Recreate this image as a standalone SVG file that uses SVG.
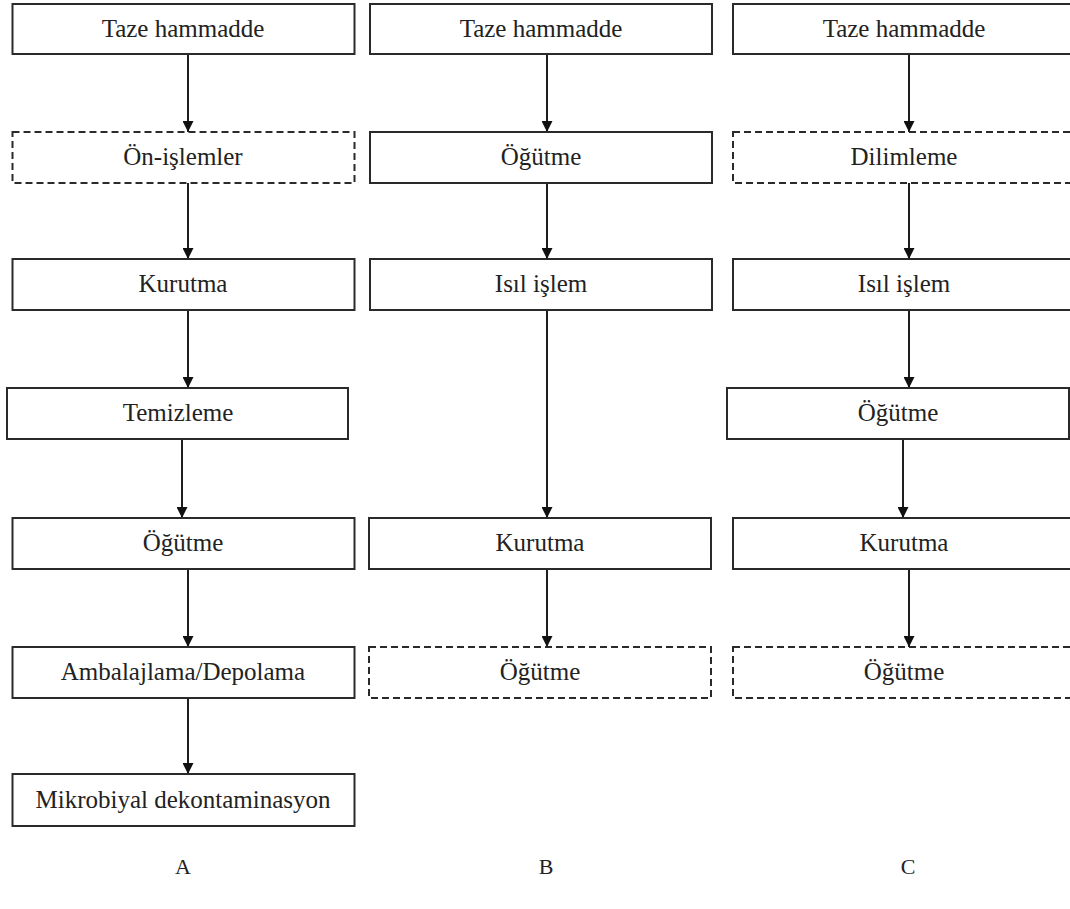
<svg xmlns="http://www.w3.org/2000/svg" width="1070" height="909" viewBox="0 0 1070 909">
<style>
.box{fill:#fff;stroke:#2a2a2a;stroke-width:2}
.dash{fill:#fff;stroke:#2a2a2a;stroke-width:2;stroke-dasharray:7 4}
.t{font-family:"Liberation Serif","Times New Roman",serif;font-size:25px;fill:#222;text-anchor:middle}
.lbl{font-family:"Liberation Serif","Times New Roman",serif;font-size:22px;fill:#222;text-anchor:middle}
.c{stroke:#1e1e1e;stroke-width:2;fill:none;marker-end:url(#ah)}
</style>
<defs>
<marker id="ah" viewBox="0 0 12 12" refX="12" refY="6" markerWidth="12" markerHeight="11" markerUnits="userSpaceOnUse" orient="auto">
<path d="M0,0 L12,6 L0,12 z" fill="#111"/>
</marker>
</defs>
<rect width="1070" height="909" fill="#fff"/>
<g id="connectors">
<line class="c" x1="188" y1="54" x2="188" y2="132"/>
<line class="c" x1="188" y1="183" x2="188" y2="259"/>
<line class="c" x1="188" y1="310" x2="188" y2="388"/>
<line class="c" x1="182" y1="439" x2="182" y2="518"/>
<line class="c" x1="188" y1="569" x2="188" y2="647"/>
<line class="c" x1="188" y1="698" x2="188" y2="774"/>
<line class="c" x1="547" y1="54" x2="547" y2="132"/>
<line class="c" x1="547" y1="183" x2="547" y2="259"/>
<line class="c" x1="547" y1="310" x2="547" y2="518"/>
<line class="c" x1="547" y1="569" x2="547" y2="647"/>
<line class="c" x1="909" y1="54" x2="909" y2="132"/>
<line class="c" x1="909" y1="183" x2="909" y2="259"/>
<line class="c" x1="909" y1="310" x2="909" y2="388"/>
<line class="c" x1="903" y1="439" x2="903" y2="518"/>
<line class="c" x1="909" y1="569" x2="909" y2="647"/>
</g>
<g id="a1"><rect class="box" x="12.5" y="4" width="342" height="50"/><text class="t" x="183" y="37">Taze hammadde</text></g>
<g id="a2"><rect class="dash" x="12.5" y="132" width="342" height="51"/><text class="t" x="183" y="165">Ön-işlemler</text></g>
<g id="a3"><rect class="box" x="12.5" y="259" width="342" height="51"/><text class="t" x="183" y="292">Kurutma</text></g>
<g id="a4"><rect class="box" x="7" y="388" width="341" height="51"/><text class="t" x="178" y="421">Temizleme</text></g>
<g id="a5"><rect class="box" x="12.5" y="518" width="342" height="51"/><text class="t" x="183" y="551">Öğütme</text></g>
<g id="a6"><rect class="box" x="12.5" y="647" width="342" height="51"/><text class="t" x="183" y="680">Ambalajlama/Depolama</text></g>
<g id="a7"><rect class="box" x="12.5" y="774" width="342" height="52"/><text class="t" x="183" y="808">Mikrobiyal dekontaminasyon</text></g>
<g id="b1"><rect class="box" x="370" y="4" width="342" height="50"/><text class="t" x="541" y="37">Taze hammadde</text></g>
<g id="b2"><rect class="box" x="370" y="132" width="342" height="51"/><text class="t" x="541" y="165">Öğütme</text></g>
<g id="b3"><rect class="box" x="370" y="259" width="342" height="51"/><text class="t" x="541" y="292">Isıl işlem</text></g>
<g id="b4"><rect class="box" x="369" y="518" width="342" height="51"/><text class="t" x="540" y="551">Kurutma</text></g>
<g id="b5"><rect class="dash" x="369" y="647" width="342" height="51"/><text class="t" x="540" y="680">Öğütme</text></g>
<g id="c1"><rect class="box" x="733" y="4" width="342" height="50"/><text class="t" x="904" y="37">Taze hammadde</text></g>
<g id="c2"><rect class="dash" x="733" y="132" width="342" height="51"/><text class="t" x="904" y="165">Dilimleme</text></g>
<g id="c3"><rect class="box" x="733" y="259" width="342" height="51"/><text class="t" x="904" y="292">Isıl işlem</text></g>
<g id="c4"><rect class="box" x="727" y="388" width="342" height="51"/><text class="t" x="898" y="421">Öğütme</text></g>
<g id="c5"><rect class="box" x="733" y="518" width="342" height="51"/><text class="t" x="904" y="551">Kurutma</text></g>
<g id="c6"><rect class="dash" x="733" y="647" width="342" height="51"/><text class="t" x="904" y="680">Öğütme</text></g>
<g id="labels">
<text class="lbl" x="183" y="874">A</text>
<text class="lbl" x="546" y="874">B</text>
<text class="lbl" x="908" y="874">C</text>
</g>
</svg>
